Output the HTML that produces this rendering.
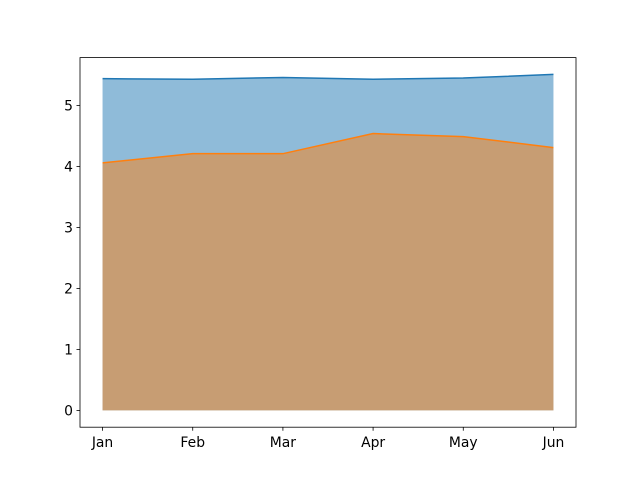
<!DOCTYPE html>
<html><head><meta charset="utf-8"><style>body{margin:0;background:#fff}svg{display:block;font-family:"DejaVu Sans","Liberation Sans",sans-serif}</style></head>
<body>
<svg id="chart" width="640" height="480" xmlns="http://www.w3.org/2000/svg"></svg>
<script>
const categories=["Jan","Feb","Mar","Apr","May","Jun"];
const seriesA=[5.44,5.43,5.46,5.43,5.45,5.51];
const seriesB=[4.06,4.21,4.21,4.54,4.49,4.31];
const yTicks=[0,1,2,3,4,5];
const L=80,R=576,T=57.6,B=427.2;
const ymin=-0.2755,ymax=5.7855;
const xs=i=>L+(i+0.25)*(R-L)/5.5;
const ys=v=>B-(v-ymin)/(ymax-ymin)*(B-T);
const NS="http://www.w3.org/2000/svg";
const svg=document.getElementById('chart');
function mk(t,a){const e=document.createElementNS(NS,t);for(const k in a)e.setAttribute(k,a[k]);svg.appendChild(e);return e;}
function area(vals,color,name){
  let d="M"+xs(0)+","+ys(0);
  vals.forEach((v,i)=>d+=" L"+xs(i)+","+ys(v));
  d+=" L"+xs(vals.length-1)+","+ys(0)+" Z";
  const p=mk('path',{d:d,fill:color,'fill-opacity':0.5});
  
  
}
function line(vals,color,name){
  const p=mk('polyline',{points:vals.map((v,i)=>xs(i)+","+ys(v)).join(" "),fill:"none",stroke:color,'stroke-width':1.5});
  
  
}
area(seriesA,"#1f77b4","series-a");
area(seriesB,"#ff7f0e","series-b");
line(seriesA,"#1f77b4","series-a");
line(seriesB,"#ff7f0e","series-b");
const fr=mk('rect',{x:L,y:T,width:R-L,height:B-T,fill:"none",stroke:"#000",'stroke-width':0.8});


yTicks.forEach(v=>{
  const y=ys(v);
  const t=mk('line',{x1:L-3.5,x2:L,y1:y,y2:y,stroke:"#000",'stroke-width':0.8});
  
  
  const tx=mk('text',{x:L-7,y:y+5,'text-anchor':'end','font-size':13.9});
  tx.textContent=v;
  
  
});
categories.forEach((c,i)=>{
  const x=xs(i);
  const t=mk('line',{x1:x,x2:x,y1:B,y2:B+3.5,stroke:"#000",'stroke-width':0.8});
  
  
  const tx=mk('text',{x:x,y:B+20,'text-anchor':'middle','font-size':13.9});
  tx.textContent=c;
  
  
});
</script>
</body></html>
